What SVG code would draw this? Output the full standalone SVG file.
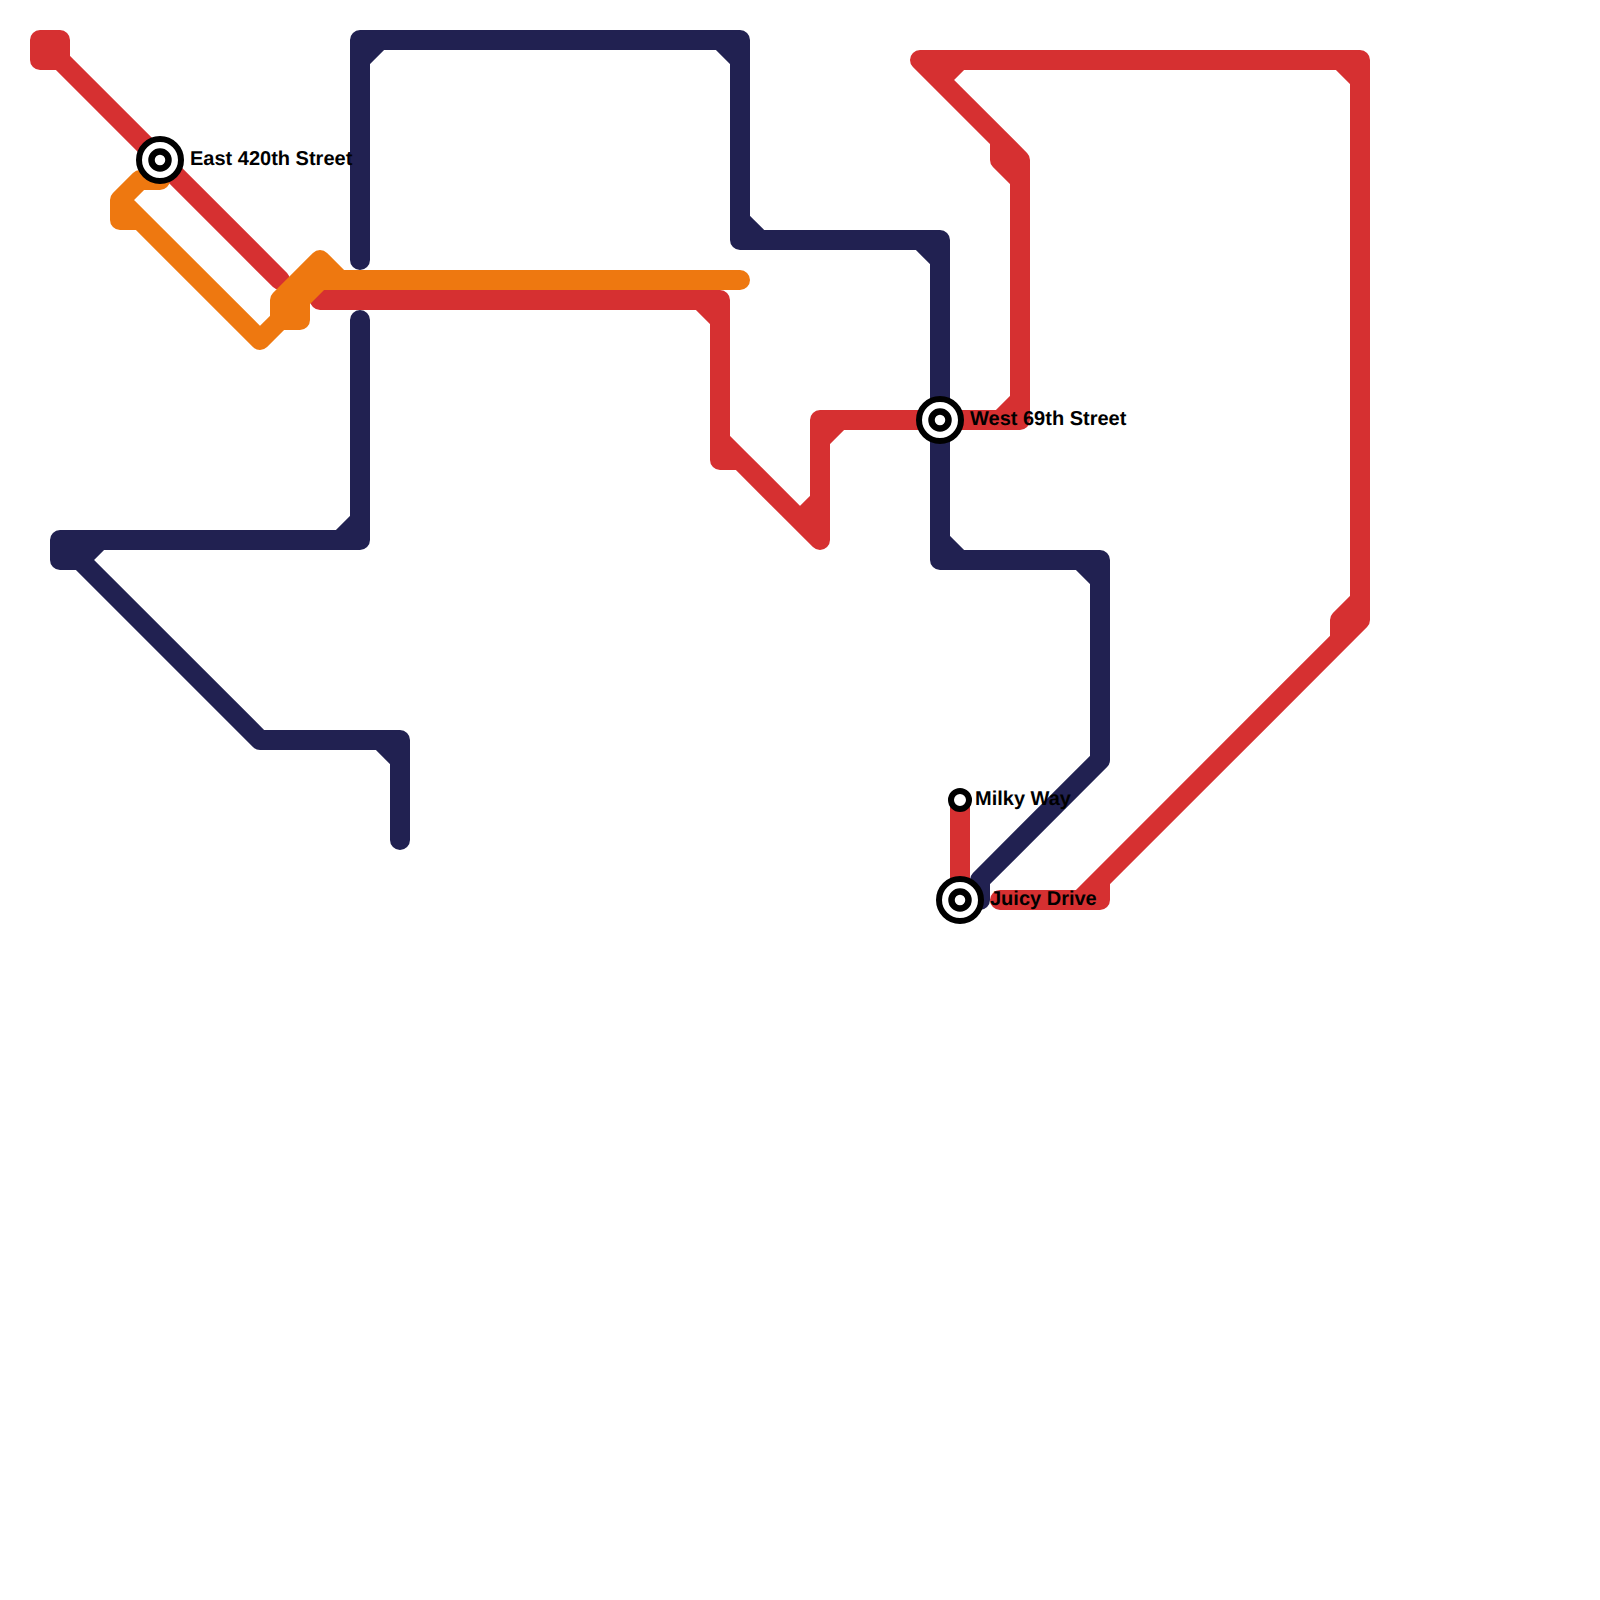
<svg xmlns="http://www.w3.org/2000/svg" width="1600" height="1600" viewBox="0 0 1600 1600">
<style>
.l{fill:none;stroke-width:20;stroke-linecap:round;stroke-linejoin:round}
.red{stroke:#d63031}
.navy{stroke:#212151}
.orange{stroke:#ee7810}
.o{fill:#fff;stroke:#000;stroke-width:6}
.i{fill:#fff;stroke:#000;stroke-width:6.5}
text{font-family:"Liberation Sans",Arial,sans-serif;font-weight:700;font-size:20px;fill:#000;text-rendering:geometricPrecision}
</style>
<rect width="1600" height="1600" fill="#fff"/>
<g id="connectors">
<path id="line-red" class="l red" d="M40 40H60V60H40ZM60 60L280 280M320 300H720V460H740L820 540V420H1020V160L920 60H1360V620L1100 880V900H1000M700 300L720 320M720 440L740 460M820 500L800 520M820 440L840 420M1000 420L1020 400M1000 140V160H1020M1000 160L1020 180M940 80L960 60M1340 60L1360 80M1360 600L1340 620V640M1100 880L1080 900M960 800V900"/>
<path id="line-navy-a" class="l navy" d="M360 260V40H740V240H940V560H1100V760L980 880V900H960M360 60L380 40M720 40L740 60M740 220L760 240M920 240L940 260M940 540L960 560M1080 560L1100 580"/>
<path id="line-navy-b" class="l navy" d="M360 320V540H60V560H80L260 740H400V840M360 520L340 540M100 540L80 560M380 740L400 760"/>
<path id="line-orange" class="l orange" d="M160 160V180H140L120 200V220H140L260 340L280 320H300V300H280L320 260L340 280H740M280 300V320M120 200L140 220M320 260V280L300 300M320 280H340"/>
</g>
<g id="station-east-420th"><circle class="o" cx="160" cy="160" r="21"/><circle class="i" cx="160" cy="160" r="8.5"/><text x="190" y="164.5">East 420th Street</text></g>
<g id="station-west-69th"><circle class="o" cx="940" cy="420" r="21"/><circle class="i" cx="940" cy="420" r="8.5"/><text x="970" y="424.5">West 69th Street</text></g>
<g id="station-juicy-drive"><circle class="o" cx="960" cy="900" r="21"/><circle class="i" cx="960" cy="900" r="8.5"/><text x="990" y="904.5">Juicy Drive</text></g>
<g id="station-milky-way"><circle class="o" cx="960" cy="800" r="9"/><text x="975" y="804.5">Milky Way</text></g>
</svg>
